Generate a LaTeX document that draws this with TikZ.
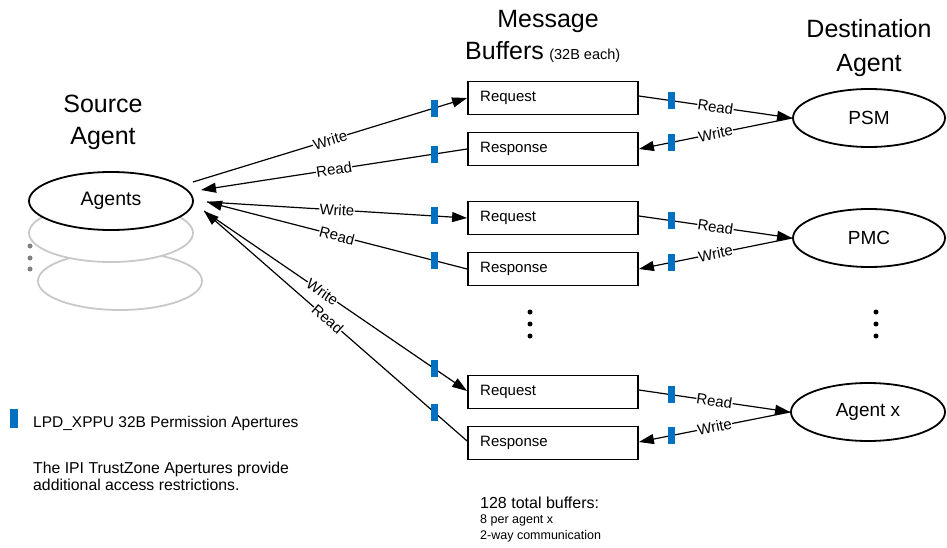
\documentclass[tikz,border=0pt]{standalone}
\usepackage{fontspec}
\setmainfont{Liberation Sans}
\usetikzlibrary{arrows.meta,shapes.geometric}
\definecolor{apblue}{RGB}{0,112,192}
\definecolor{ghost}{RGB}{200,200,200}
\begin{document}
\begin{tikzpicture}[x=1pt,y=-1pt,
  title/.style={font=\fontsize{25}{30}\selectfont, anchor=base, inner sep=0pt},
  buf/.style={draw, line width=1.8pt, minimum width=170pt, minimum height=33pt, inner sep=0pt},
  buftext/.style={font=\fontsize{15}{18}\selectfont, anchor=west, inner sep=0pt},
  agent/.style={draw, ellipse, line width=1.8pt, minimum width=164pt, minimum height=58pt, inner sep=0pt, fill=white},
  ghostell/.style={draw=ghost, ellipse, line width=1.8pt, minimum width=164pt, minimum height=58pt, inner sep=0pt, fill=white},
  conn/.style={line width=1.2pt, -{Triangle[length=15pt,width=10pt]}},
  lbl/.style={sloped, fill=white, inner sep=0.3pt, font=\fontsize{15}{15}\selectfont},
  apert/.style={fill=apblue, minimum width=7pt, minimum height=17pt, inner sep=0pt},
  vdot/.style={circle, fill=black, minimum size=5pt, inner sep=0pt},
  gdot/.style={circle, fill=gray, minimum size=5pt, inner sep=0pt}
]
\useasboundingbox (0,0) rectangle (947,548);

% Titles
\node[title] (st1) at (103,113) {Source};
\node[title] (st2) at (103,145) {Agent};
\node[title] (mt1) at (548,28) {Message};
\node[title, anchor=base west] (mt2) at (465,60) {Buffers};
\node[anchor=base west, inner sep=0pt, font=\fontsize{14.5}{16}\selectfont] (mt3) at ([xshift=5pt]mt2.base east) {(32B each)};
\node[title] (dt1) at (869,38) {Destination};
\node[title] (dt2) at (869,72) {Agent};

% Source agents
\node[ghostell] (g2) at (120,281) {};
\node[ghostell] (g1) at (111,233) {};
\node[agent] (src) at (111,201) {};
\node[font=\fontsize{19.5}{22}\selectfont] (srct) at (111,201) {Agents};
\node[gdot] (gd1) at (30,246) {};
\node[gdot] (gd2) at (30,258) {};
\node[gdot] (gd3) at (30,269) {};

% Buffers
\node[buf] (req1) at (553,98) {};
\node[buf] (res1) at (553,149) {};
\node[buf] (req2) at (553,218) {};
\node[buf] (res2) at (553,269) {};
\node[buf] (req3) at (553,392) {};
\node[buf] (res3) at (553,443) {};
\node[buftext] (req1t) at (480,98) {Request};
\node[buftext] (res1t) at (480,149) {Response};
\node[buftext] (req2t) at (480,218) {Request};
\node[buftext] (res2t) at (480,269) {Response};
\node[buftext] (req3t) at (480,392) {Request};
\node[buftext] (res3t) at (480,443) {Response};

% Destination agents
\node[agent, minimum width=152pt] (psm) at (869,118) {};
\node[font=\fontsize{19}{22}\selectfont] (psmt) at (869,118) {PSM};
\node[agent, minimum width=152pt] (pmc) at (869,238) {};
\node[font=\fontsize{19}{22}\selectfont] (pmct) at (869,238) {PMC};
\node[agent, minimum width=154pt] (agx) at (868,412) {};
\node[font=\fontsize{19}{22}\selectfont] (agxt) at (868,412) {Agent x};

% dots
\node[vdot] (md1) at (530,312) {};
\node[vdot] (md2) at (530,324) {};
\node[vdot] (md3) at (530,336) {};
\node[vdot] (rd1) at (876,312) {};
\node[vdot] (rd2) at (876,324) {};
\node[vdot] (rd3) at (876,336) {};

% source-side endpoints
\coordinate (w1) at (193,182);
\coordinate (r1) at (201,190);
\coordinate (c2) at (207,202);
\coordinate (c3) at (204,211);

% Left connectors
\draw[conn] (w1) -- node[lbl, pos=0.5] {Write} node[apert, pos=0.88] {} (req1.west);
\draw[conn] (res1.west) -- node[apert, pos=0.124] {} node[lbl, pos=0.5] {Read} (r1);
\draw[conn] (c2) -- node[lbl, pos=0.5] {Write} node[apert, pos=0.874] {} (req2.west);
\draw[conn] (res2.west) -- node[apert, pos=0.126] {} node[lbl, pos=0.5] {Read} (c2);
\draw[conn] (c3) -- node[lbl, pos=0.45] {Write} node[apert, pos=0.875] {} ([yshift=1pt]req3.west);
\draw[conn] ([yshift=2pt]res3.west) -- node[apert, pos=0.125] {} node[lbl, pos=0.53] {Read} (c3);

% Right connectors
\draw[conn] ([yshift=2pt]req1.east) -- node[apert, pos=0.213] {} node[lbl, pos=0.5] {Read} (psm.west);
\draw[conn] (psm.west) -- node[lbl, pos=0.5] {Write} node[apert, pos=0.787] {} (res1.east);
\draw[conn] ([yshift=2pt]req2.east) -- node[apert, pos=0.213] {} node[lbl, pos=0.5] {Read} (pmc.west);
\draw[conn] (pmc.west) -- node[lbl, pos=0.5] {Write} node[apert, pos=0.787] {} (res2.east);
\draw[conn] ([yshift=2pt]req3.east) -- node[apert, pos=0.213] {} node[lbl, pos=0.5] {Read} (agx.west);
\draw[conn] (agx.west) -- node[lbl, pos=0.5] {Write} node[apert, pos=0.787] {} ([yshift=1pt]res3.east);

% Legend
\node[apert, minimum height=19pt, minimum width=8pt] (leg) at (14,418) {};
\node[anchor=base west, inner sep=0pt, font=\fontsize{15.5}{18}\selectfont] (legt) at (33,427) {LPD\_XPPU 32B Permission Apertures};
\node[anchor=base west, inner sep=0pt, font=\fontsize{15.8}{17}\selectfont] (note1) at (33,473) {The IPI TrustZone Apertures provide};
\node[anchor=base west, inner sep=0pt, font=\fontsize{15.8}{17}\selectfont] (note2) at (33,490) {additional access restrictions.};

% Bottom note
\node[anchor=base west, inner sep=0pt, font=\fontsize{16}{18}\selectfont] (b1) at (480,508) {128 total buffers:};
\node[anchor=base west, inner sep=0pt, font=\fontsize{12.5}{14}\selectfont] (b2) at (480,523) {8 per agent x};
\node[anchor=base west, inner sep=0pt, font=\fontsize{12.5}{14}\selectfont] (b3) at (480,539) {2-way communication};
\end{tikzpicture}
\end{document}
